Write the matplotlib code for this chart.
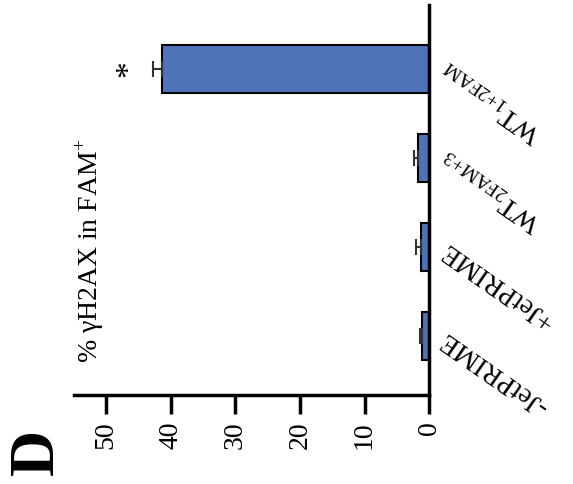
import matplotlib
matplotlib.use("Agg")
import matplotlib.pyplot as plt
import numpy as np

plt.rcParams['font.family'] = ['Liberation Serif', 'DejaVu Serif']
plt.rcParams['mathtext.fontset'] = 'custom'
plt.rcParams['mathtext.rm'] = 'Liberation Serif'

# data (bottom to top as drawn)
groups = ['-JetPRIME', '+JetPRIME', r'WT$_{\mathrm{2FAM{+}3}}$', r'WT$_{\mathrm{1{+}2FAM}}$']
values = [1.1, 1.2, 1.8, 41.3]
errors = [0.3, 0.9, 0.6, 1.4]
ticks = [0, 10, 20, 30, 40, 50]

fig = plt.figure(figsize=(5.73, 4.84), dpi=100)
ax = fig.add_axes([0.129, 0.184, 0.62, 0.806])

pos = np.arange(len(groups))
ax.barh(pos, values, height=0.54, color='#4f73b8', edgecolor='black', linewidth=1.5,
        xerr=[np.zeros(len(errors)), errors],
        error_kw=dict(ecolor='#333333', elinewidth=1.5, capsize=6, capthick=1.5))

# significance mark
ax.text(values[3] + errors[3] + 3.8, pos[3], '*', fontsize=24, rotation=90,
        ha='center', va='center')

ax.set_xlim(55, 0)
ax.set_ylim(-0.66, 3.72)
ax.set_xticks(ticks)
ax.set_xticklabels([str(t) for t in ticks], rotation=90, fontsize=20)
ax.tick_params(axis='x', length=14, width=2.5, pad=5, direction='out')

ax.yaxis.tick_right()
ax.set_yticks(pos)
ax.set_yticklabels(groups, fontsize=20)
for lab in ax.get_yticklabels():
    lab.set_rotation(145)
    lab.set_rotation_mode('anchor')
    lab.set_ha('right')
    lab.set_va('center')
ax.tick_params(axis='y', length=0, pad=10)

ax.spines['left'].set_visible(False)
ax.spines['top'].set_visible(False)
ax.spines['right'].set_linewidth(2.5)
ax.spines['bottom'].set_linewidth(2.5)

ax.text(0.045, 0.37, '% γH2AX in FAM$^{+}$', transform=ax.transAxes,
        rotation=90, fontsize=20, ha='center', va='center')

fig.text(0.066, 0.066, 'D', fontsize=46, fontweight='bold', rotation=90,
         ha='center', va='center')

fig.savefig('out.png', dpi=100)
